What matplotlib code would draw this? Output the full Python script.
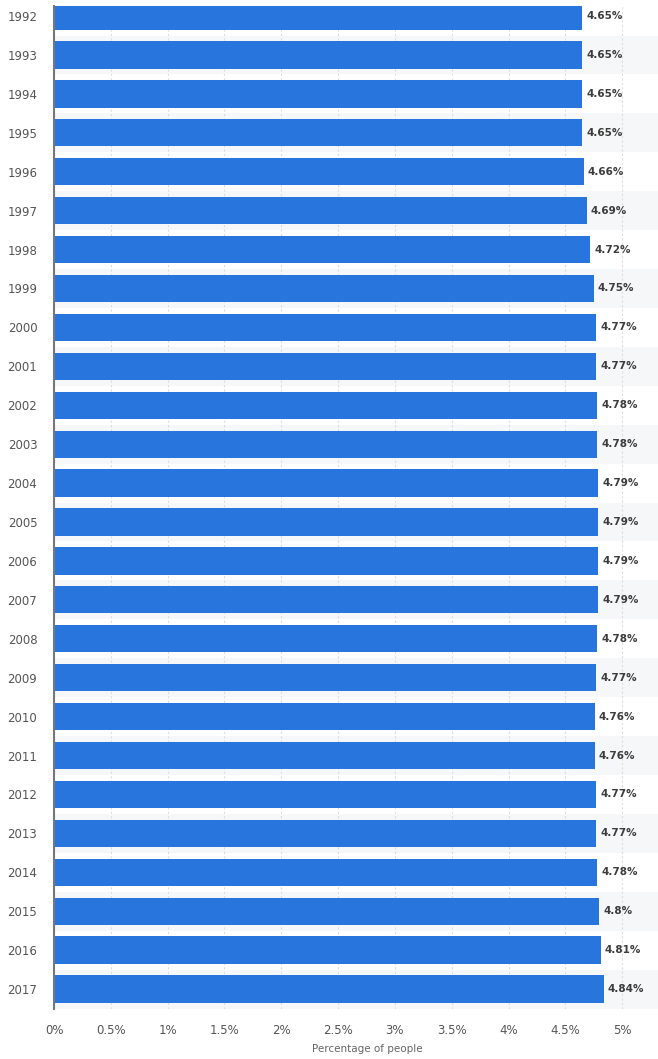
import matplotlib.pyplot as plt

years = [str(y) for y in range(1992, 2018)]
values = [4.65, 4.65, 4.65, 4.65, 4.66, 4.69, 4.72, 4.75, 4.77, 4.77,
          4.78, 4.78, 4.79, 4.79, 4.79, 4.79, 4.78, 4.77, 4.76, 4.76,
          4.77, 4.77, 4.78, 4.8, 4.81, 4.84]
value_labels = ['4.65%', '4.65%', '4.65%', '4.65%', '4.66%', '4.69%', '4.72%', '4.75%',
                '4.77%', '4.77%', '4.78%', '4.78%', '4.79%', '4.79%', '4.79%', '4.79%',
                '4.78%', '4.77%', '4.76%', '4.76%', '4.77%', '4.77%', '4.78%', '4.8%',
                '4.81%', '4.84%']
xticks = [0, 0.5, 1, 1.5, 2, 2.5, 3, 3.5, 4, 4.5, 5, 5.5]
xtick_labels = ['0%', '0.5%', '1%', '1.5%', '2%', '2.5%', '3%', '3.5%', '4%', '4.5%', '5%', '5.5%']

W, H = 658, 1059
fig = plt.figure(figsize=(W / 100, H / 100), dpi=100)
# the plot area runs past the right edge, like the cropped screenshot
left, right = 54 / W, 679 / W
bottom, top = (H - 1008.5) / H, (H - 6) / H
ax = fig.add_axes([left, bottom, right - left, top - bottom])

pos = list(range(len(years)))
# alternating row stripes
for i in pos:
    if i % 2 == 1:
        ax.axhspan(i - 0.5, i + 0.5, color='#f6f7f8', zorder=0, lw=0)

ax.barh(pos, values, height=0.7, color='#2876dd', zorder=2)
for i, (v, lab) in enumerate(zip(values, value_labels)):
    ax.text(v + 0.035, i, lab, va='center', ha='left', fontsize=7.5,
            fontweight='bold', color='#3c3c3c', zorder=3)

ax.set_xlim(0, 5.5)
ax.set_ylim(len(years) - 0.5, 25.5 - 1002.5 / 38.92)
ax.set_yticks(pos)
ax.set_yticklabels(years, fontsize=8.5, color='#555555')
ax.set_xticks(xticks)
ax.set_xticklabels(xtick_labels, fontsize=8.5, color='#555555')
ax.tick_params(axis='both', length=0)
ax.tick_params(axis='x', pad=11)
ax.tick_params(axis='y', pad=12)
ax.xaxis.grid(True, color='#dddddd', linestyle=(0, (2, 2)), lw=0.8, zorder=1)
ax.set_axisbelow(True)
for s in ['top', 'right', 'bottom']:
    ax.spines[s].set_visible(False)
ax.spines['left'].set_color('#777777')
ax.spines['left'].set_linewidth(1.5)

fig.text(367 / W, 1 - 1049 / H, 'Percentage of people', ha='center', va='center',
         fontsize=7.5, color='#666666')

fig.savefig('out.png', dpi=100)
